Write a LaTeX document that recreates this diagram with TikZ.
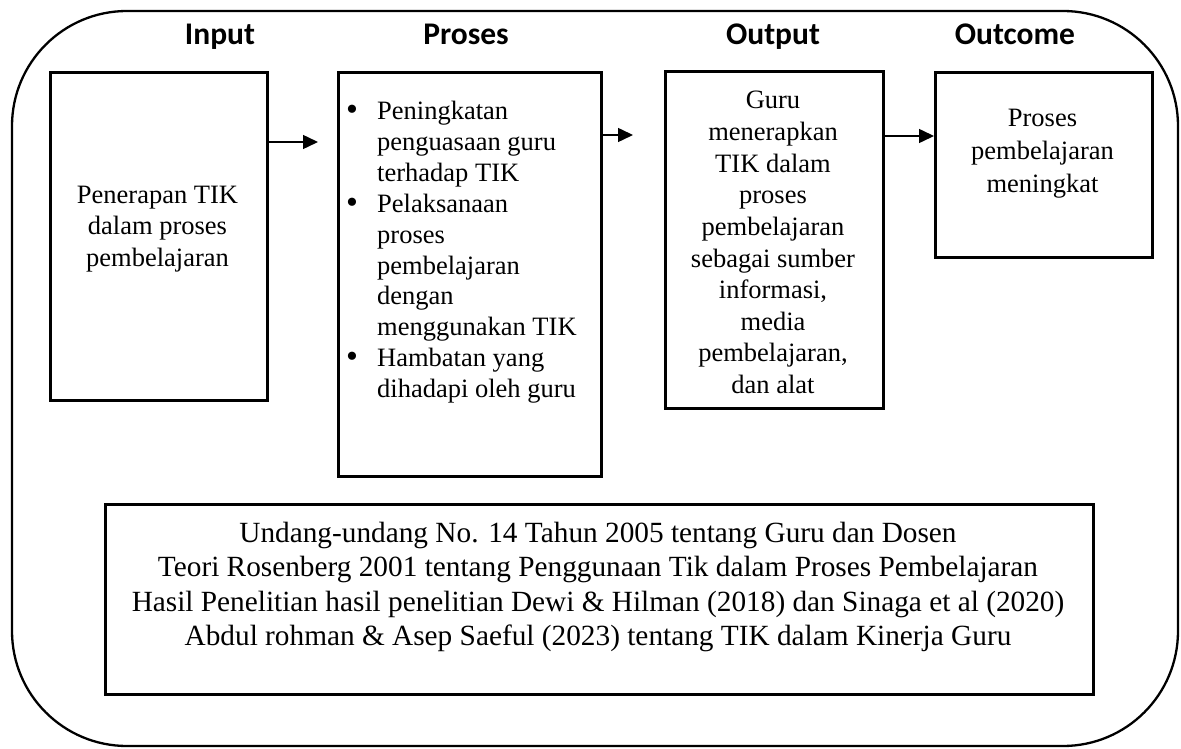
\documentclass[tikz,border=0pt]{standalone}
\usepackage{fontspec}
\setmainfont{Liberation Serif}
\newfontfamily\headfont{Carlito}
\usetikzlibrary{arrows.meta}
\begin{document}
\begin{tikzpicture}[x=1pt,y=-1pt,
  box/.style={draw, line width=2.8pt, inner sep=0pt, anchor=north west},
  bt/.style={font=\fontsize{26.5}{31.5}\selectfont, inner sep=0pt, anchor=base},
  btl/.style={bt, anchor=base west},
  bigt/.style={font=\fontsize{29.3}{35}\selectfont, inner sep=0pt, anchor=base},
  bul/.style={font=\fontsize{34}{34}\selectfont, inner sep=0pt, anchor=base},
  head/.style={font=\headfont\bfseries\fontsize{31.5}{36}\selectfont, inner sep=0pt, anchor=base},
  arr/.style={line width=1.5pt, -{Triangle[length=15pt,width=14pt]}}]
\useasboundingbox (0,0) rectangle (1181,749);
\draw[line width=2.3pt, rounded corners=115pt] (12,11) rectangle (1178,746);
% headers
\node[head] (hin)  at (220,45)  {Input};
\node[head] (hpr)  at (466,45)  {Proses};
\node[head] (hout) at (773,45)  {Output};
\node[head] (hoc)  at (1015,45) {Outcome};
% boxes
\node[box, minimum width=217pt, minimum height=328pt] (inbox)   at (49,71)  {};
\node[box, minimum width=263pt, minimum height=404pt] (proses)  at (337,71) {};
\node[box, minimum width=218pt, minimum height=337pt] (outbox)  at (664,70) {};
\node[box, minimum width=217pt, minimum height=185pt] (outcome) at (934,71) {};
\node[box, minimum width=988pt, minimum height=190pt] (basis)   at (104,503) {};
% input text
\foreach \t [count=\i from 0] in {Penerapan TIK, dalam proses, pembelajaran}
  \node[bt] (in\i) at (157.5,203+31.5*\i) {\t};
% proses text
\foreach \t [count=\i from 0] in {Peningkatan, penguasaan guru, terhadap TIK, Pelaksanaan, proses, pembelajaran, dengan, menggunakan TIK, Hambatan yang, dihadapi oleh guru}
  \node[btl] (pr\i) at (377,120+30.8*\i) {\t};
\foreach \k in {0,3,8}
  \node[bul] (bul\k) at (352,121+30.8*\k) {\textbullet};
% output text
\foreach \t [count=\i from 0] in {Guru, menerapkan, TIK dalam, proses, pembelajaran, sebagai sumber, {informasi,}, media, {pembelajaran,}, dan alat}
  \node[bt] (out\i) at (773,109+31.6*\i) {\t};
% outcome text
\foreach \t [count=\i from 0] in {Proses, pembelajaran, meningkat}
  \node[bt] (oc\i) at (1042.5,127+33*\i) {\t};
% basis text
\node[bigt] (b0) at (598,542)   {Undang-undang No. 14 Tahun 2005 tentang Guru dan Dosen};
\node[bigt] (b1) at (598,576.5) {Teori Rosenberg 2001 tentang Penggunaan Tik dalam Proses Pembelajaran};
\node[bigt] (b2) at (598,611)   {Hasil Penelitian hasil penelitian Dewi \& Hilman (2018) dan Sinaga et al (2020)};
\node[bigt] (b3) at (598,645.5) {Abdul rohman \& Asep Saeful (2023) tentang TIK dalam Kinerja Guru};
% arrows
\coordinate (a1) at (0,142);
\coordinate (a2) at (0,135);
\coordinate (a3) at (0,136);
\draw[arr, shorten >=19pt] (inbox.east |- a1) -- (proses.west |- a1);
\draw[arr, shorten >=31pt] (proses.east |- a2) -- (outbox.west |- a2);
\draw[arr] (outbox.east |- a3) -- (outcome.west |- a3);
\end{tikzpicture}
\end{document}
